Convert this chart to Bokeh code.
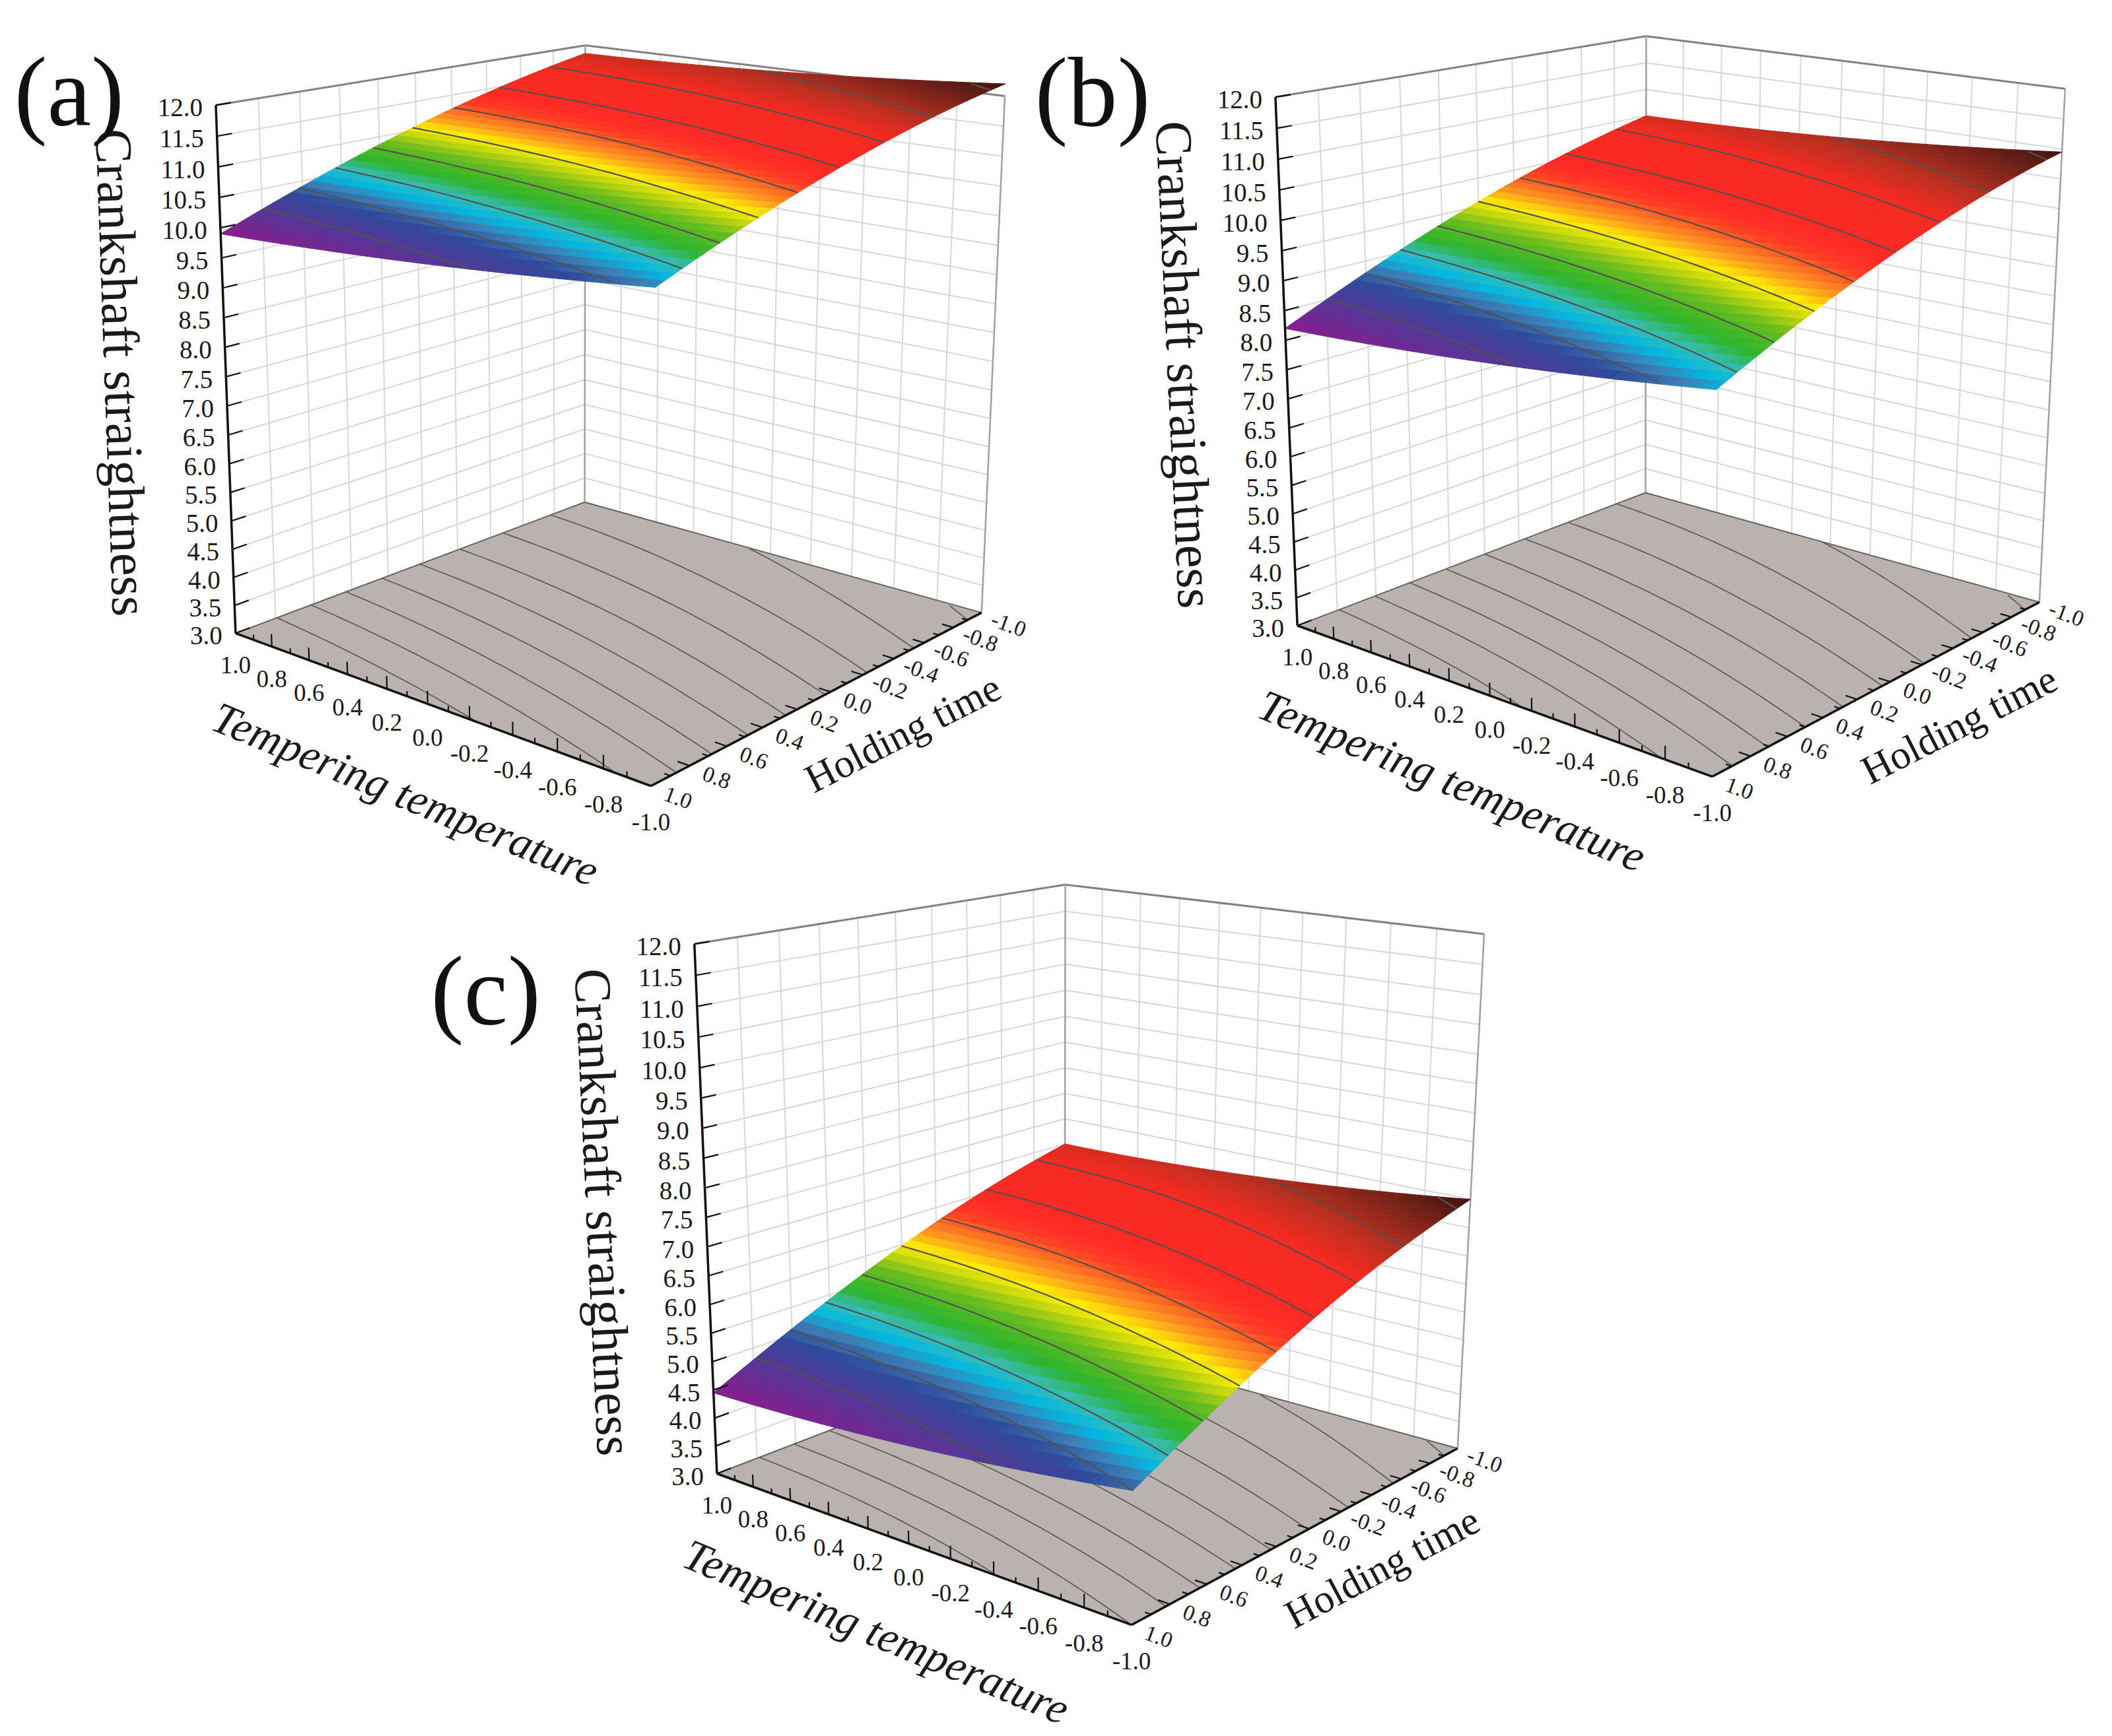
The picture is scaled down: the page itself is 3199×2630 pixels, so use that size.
import numpy as np
from bokeh.plotting import figure
from bokeh.models import Range1d, ColumnDataSource
from bokeh.core.properties import value
from bokeh.embed import file_html
from bokeh.resources import INLINE

# ---- data ----
AXIS_TICKS = [1.0, 0.8, 0.6, 0.4, 0.2, 0.0, -0.2, -0.4, -0.6, -0.8, -1.0]
Z_TICKS = [3.0, 3.5, 4.0, 4.5, 5.0, 5.5, 6.0, 6.5, 7.0, 7.5, 8.0, 8.5, 9.0, 9.5, 10.0, 10.5, 11.0, 11.5, 12.0]
GRID_T = [1.0, 0.0, -1.0]
GRID_H = [1.0, 0.5, 0.0, -0.5, -1.0]

# straightness by (tempering temperature row, holding time column)
SURFACE_A = [[9.90, 10.53, 11.07, 11.51, 11.85],
             [10.10, 10.71, 11.22, 11.64, 11.95],
             [10.45, 11.03, 11.52, 11.91, 12.20]]
SURFACE_B = [[8.20, 8.94, 9.58, 10.10, 10.50],
             [8.46, 9.17, 9.78, 10.27, 10.64],
             [8.90, 9.58, 10.15, 10.61, 10.95]]
SURFACE_C = [[4.45, 5.27, 5.98, 6.56, 7.00],
             [4.65, 5.46, 6.16, 6.71, 7.13],
             [5.10, 5.89, 6.57, 7.10, 7.50]]
LEVELS_A = [10.17, 10.39, 10.61, 10.83, 11.05, 11.27, 11.49, 11.71, 11.93, 12.15]
LEVELS_B = [8.52, 8.79, 9.05, 9.31, 9.58, 9.84, 10.10, 10.36, 10.63, 10.89]
LEVELS_C = [4.81, 5.10, 5.39, 5.68, 5.98, 6.27, 6.56, 6.85, 7.14, 7.43]

# colour scale of the surface: share of the panel's range, colour
CMAP_POS = [0.0, 0.09, 0.19, 0.24, 0.275, 0.315, 0.36, 0.43, 0.47, 0.51, 0.55, 0.62, 0.66, 0.80, 0.87, 0.95, 1.0]
CMAP_COL = ["#8A1C8C", "#5E3296", "#2F4A9A", "#3C7FB4", "#00B8E2", "#38BCB4", "#2CB52D", "#66BC20", "#B8D210",
            "#FFEE00", "#FF9C20", "#FF3C25", "#FF2A25", "#F42A20", "#B83020", "#6E2018", "#3F1510"]

# camera calibration per panel: where the box corners fall on the page (T, H, z -> px)
BOX_POINTS = [(1, 1, 3), (1, 1, 12), (1, -1, 3), (1, -1, 12), (-1, -1, 3), (-1, -1, 12), (-1, 1, 3)]
PANELS = [
    dict(name="(a)", surf=SURFACE_A, levels=LEVELS_A, label=(29, 146),
         cam=[(365, 967), (335, 166), (893, 769), (893, 76), (1495, 934), (1530, 154), (992, 1199)],
         ytitle=(192, 572, -88.0), ttitle=(622, 1210, -22.5), htitle=(1375, 1118, 27.0)),
    dict(name="(b)", surf=SURFACE_B, levels=LEVELS_B, label=(1575, 147),
         cam=[(1973, 955), (1940, 154), (2500, 755), (2500, 62), (3097, 918), (3136, 143), (2600, 1185)],
         ytitle=(1802, 560, -87.3), ttitle=(2207, 1190, -22.2), htitle=(2975, 1105, 27.0)),
    dict(name="(c)", surf=SURFACE_C, levels=LEVELS_C, label=(660, 1508),
         cam=[(1094, 2239), (1060, 1437), (1620, 2040), (1620, 1347), (2216, 2199), (2256, 1424), (1720, 2471)],
         ytitle=(922, 1844, -87.3), ttitle=(1335, 2479, -22.7), htitle=(2101, 2382, 28.0)),
]

SERIF = value("Liberation Serif")
FLOOR = "#BAB2AE"
GRID_COL = "#DAD6D6"


def camera(points3d, points2d):
    rows = []
    for (X, Y, Z), (u, v) in zip(points3d, points2d):
        P = [X, Y, (Z - 7.5) / 4.5, 1.0]
        u, v = u / 1000.0, v / 1000.0
        rows.append(P + [0, 0, 0, 0] + [-u * c for c in P])
        rows.append([0, 0, 0, 0] + P + [-v * c for c in P])
    _, _, vt = np.linalg.svd(np.array(rows))
    return vt[-1].reshape(3, 4)


def project(M, T, H, z):
    T, H, z = np.broadcast_arrays(np.asarray(T, float), np.asarray(H, float), np.asarray(z, float))
    P = np.stack([T, H, (z - 7.5) / 4.5, np.ones_like(T)])
    q = np.tensordot(M, P, axes=(1, 0))
    return q[0] / q[2] * 1000.0, q[1] / q[2] * 1000.0


def hex2rgb(h):
    return [int(h[i:i + 2], 16) for i in (1, 3, 5)]


CM = np.array([hex2rgb(c) for c in CMAP_COL], float)


def cmap(u):
    return ["#%02x%02x%02x" % tuple(int(round(np.interp(a, CMAP_POS, CM[:, k]))) for k in range(3)) for a in u]


def surface_fn(table):
    tab = np.array(table)
    deg_t, deg_h = len(GRID_T) - 1, len(GRID_H) - 1
    coef_h = np.array([np.polyfit(GRID_H, row, deg_h) for row in tab])

    def f(T, H):
        T = np.asarray(T, float)
        H = np.asarray(H, float)
        vals = np.array([np.polyval(c, H) for c in coef_h])
        L0 = (T - GRID_T[1]) * (T - GRID_T[2]) / ((GRID_T[0] - GRID_T[1]) * (GRID_T[0] - GRID_T[2]))
        L1 = (T - GRID_T[0]) * (T - GRID_T[2]) / ((GRID_T[1] - GRID_T[0]) * (GRID_T[1] - GRID_T[2]))
        L2 = (T - GRID_T[0]) * (T - GRID_T[1]) / ((GRID_T[2] - GRID_T[0]) * (GRID_T[2] - GRID_T[1]))
        return L0 * vals[0] + L1 * vals[1] + L2 * vals[2]
    return f


p = figure(width=3183, height=2614, x_range=Range1d(8, 3191), y_range=Range1d(2622, 8),
           x_axis_location=None, y_axis_location=None, toolbar_location=None, output_backend="svg",
           min_border=0, outline_line_color=None, background_fill_color="#FFFFFF", border_fill_color="#FFFFFF")
p.grid.visible = False


def segs(M, seglist, color, width):
    xs, ys = [], []
    for (a, b) in seglist:
        x, y = project(M, [a[0], b[0]], [a[1], b[1]], [a[2], b[2]])
        xs.append(list(x))
        ys.append(list(y))
    p.multi_line(xs, ys, line_color=color, line_width=width)


for P in PANELS:
    M = camera(BOX_POINTS, P["cam"])
    f = surface_fn(P["surf"])
    tab = np.array(P["surf"])
    zmin, zmax = tab.min(), tab.max()
    minor = np.round(np.arange(-1, 1.001, 0.1), 2)

    # walls: grid
    grid = []
    for z in Z_TICKS[1:-1]:
        grid.append(((1, 1, z), (1, -1, z)))
        grid.append(((1, -1, z), (-1, -1, z)))
    for v in AXIS_TICKS[1:-1]:
        grid.append(((1, v, 3), (1, v, 12)))
        grid.append(((v, -1, 3), (v, -1, 12)))
    segs(M, grid, GRID_COL, 2)
    segs(M, [((1, 1, 12), (1, -1, 12)), ((1, -1, 12), (-1, -1, 12))], "#85807F", 3)
    segs(M, [((1, -1, 3), (1, -1, 12)), ((-1, -1, 3), (-1, -1, 12))], "#A0A0A0", 2.5)

    # floor
    fx, fy = project(M, [1, 1, -1, -1], [1, -1, -1, 1], [3, 3, 3, 3])
    p.patch(list(fx), list(fy), fill_color=FLOOR, line_color=None)
    segs(M, [((1, 1, 3), (1, -1, 3)), ((1, -1, 3), (-1, -1, 3))], "#66625F", 2)

    # contours
    Tfine = np.linspace(1, -1, 61)
    Hfine = np.linspace(1, -1, 201)
    contour_H = []
    for L in P["levels"]:
        Ts, Hs = [], []
        for T in Tfine:
            zz = f(T, Hfine)
            if zz[0] <= L <= zz[-1]:
                Ts.append(T)
                Hs.append(np.interp(L, zz, Hfine))
        contour_H.append((L, np.array(Ts), np.array(Hs)))
    xs, ys = [], []
    for L, Ts, Hs in contour_H:
        if len(Ts) > 1:
            x, y = project(M, Ts, Hs, 3.0)
            xs.append(list(x))
            ys.append(list(y))
    p.multi_line(xs, ys, line_color="#5E5A58", line_width=1.7)

    # surface
    NT, NH = 56, 40
    Ts = np.linspace(1, -1, NT + 1)
    Hs = np.linspace(1, -1, NH + 1)
    qx, qy, um = [], [], []
    for i in range(NT):
        for j in range(NH):
            T4 = np.array([Ts[i], Ts[i + 1], Ts[i + 1], Ts[i]])
            H4 = np.array([Hs[j], Hs[j], Hs[j + 1], Hs[j + 1]])
            z4 = f(T4, H4)
            x, y = project(M, T4, H4, z4)
            qx.append(list(x))
            qy.append(list(y))
            um.append((z4.mean() - zmin) / (zmax - zmin))
    cols = cmap(um)
    src = ColumnDataSource(dict(xs=qx, ys=qy, c=cols))
    p.patches("xs", "ys", source=src, fill_color="c", line_color="c", line_width=1)

    xs, ys = [], []
    for L, Ts_, Hs_ in contour_H:
        if len(Ts_) > 1:
            x, y = project(M, Ts_, Hs_, L)
            xs.append(list(x))
            ys.append(list(y))
    p.multi_line(xs, ys, line_color="#57514E", line_width=2.2)

    # axes lines
    segs(M, [((1, 1, 3), (1, 1, 12)), ((1, 1, 3), (-1, 1, 3)), ((-1, 1, 3), (-1, -1, 3))], "#111111", 3.5)

    # ticks
    tk = [((1, 1, z), (1, 0.93, z)) for z in Z_TICKS]
    for v in minor[1:-1]:
        major = abs(round(v * 5) - v * 5) < 1e-6
        tk.append(((v, 1, 3), (v, 1, 3 + (0.22 if major else 0.09))))
        tk.append(((1 - 0 + 0 if False else -1, v, 3), (-1 + (0.05 if major else 0.025), v, 3)))
    segs(M, tk, "#111111", 2.2)

    # tick labels
    zx, zy = project(M, 1, 1, np.array(Z_TICKS))
    p.text(list(zx - 20), list(zy + 4), text=["%.1f" % z for z in Z_TICKS], text_font=SERIF, text_font_size="39px",
           text_align="right", text_baseline="middle", text_color="#1a1a1a")
    ta = np.array(AXIS_TICKS)
    tx, ty = project(M, ta, 1, 3.0)
    p.text(list(tx), list(ty + 48 + (1 - ta) / 2 * 7), text=["%.1f" % v for v in AXIS_TICKS], text_font=SERIF,
           text_font_size="37px", text_align="center", text_baseline="middle", text_color="#1a1a1a")
    hx, hy = project(M, -1, ta, 3.0)
    p.text(list(hx + 41), list(hy + 18), text=["%.1f" % v for v in AXIS_TICKS], text_font=SERIF,
           text_font_size="34px", text_align="center", text_baseline="middle", angle=np.radians(-20.0),
           text_color="#1a1a1a")

    # titles
    for key, txt, size, style in [("ytitle", "Crankshaft straightness", "79px", "normal"),
                                  ("ttitle", "Tempering temperature", "67px", "italic"),
                                  ("htitle", "Holding time", "61px", "normal")]:
        x, y, ang = P[key]
        p.text([x], [y], text=[txt], text_font=SERIF, text_font_size=size, text_font_style=style,
               text_align="center", text_baseline="middle", angle=np.radians(ang), text_color="#1a1a1a")
    p.text([P["label"][0]], [P["label"][1]], text=[P["name"]], text_font=SERIF, text_font_size="150px",
           text_align="left", text_baseline="alphabetic", text_color="#111111")

open("out.html", "w").write(file_html(p, INLINE))
